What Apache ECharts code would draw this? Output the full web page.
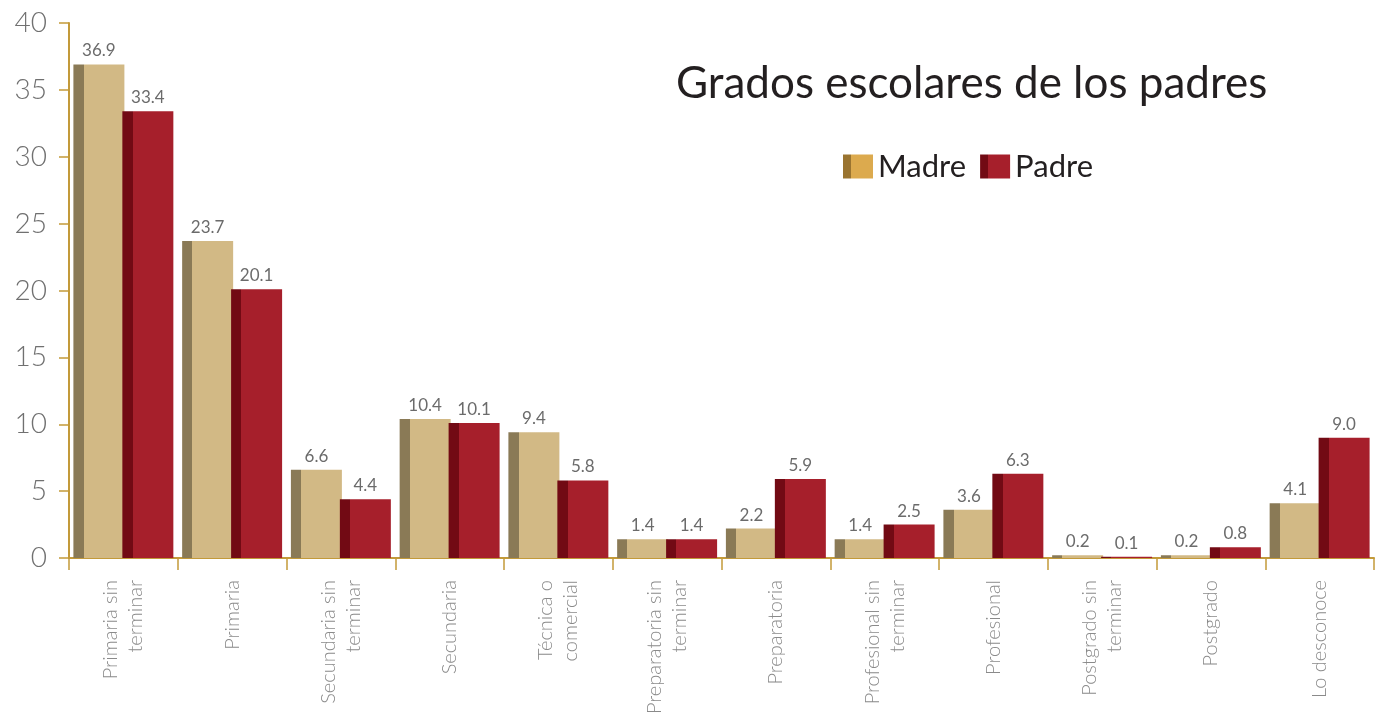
<!DOCTYPE html>
<html>
<head>
<meta charset="utf-8">
<script src="https://cdn.jsdelivr.net/npm/echarts@6/dist/echarts.min.js"></script>
<style>
  html, body { margin: 0; padding: 0; background: #fff; }
  #chart { width: 1382px; height: 728px; }
</style>
</head>
<body>
<div id="chart"></div>
<script>
var categories = ['Primaria sin\nterminar', 'Primaria', 'Secundaria sin\nterminar', 'Secundaria',
    'Técnica o\ncomercial', 'Preparatoria sin\nterminar', 'Preparatoria', 'Profesional sin\nterminar',
    'Profesional', 'Postgrado sin\nterminar', 'Postgrado', 'Lo desconoce'];
var madre = [36.9, 23.7, 6.6, 10.4, 9.4, 1.4, 2.2, 1.4, 3.6, 0.2, 0.2, 4.1];
var padre = [33.4, 20.1, 4.4, 10.1, 5.8, 1.4, 5.9, 2.5, 6.3, 0.1, 0.8, 9.0];

// barra con franja oscura a la izquierda (efecto 3D)
function sideFill(dark, light, cut) {
    return new echarts.graphic.LinearGradient(0, 0, 1, 0, [
        {offset: 0, color: dark},
        {offset: cut, color: dark},
        {offset: cut, color: light},
        {offset: 1, color: light}
    ]);
}

var labelStyle = {
    show: true,
    position: 'top',
    distance: 5,
    color: '#6b6b6b',
    fontFamily: 'Lato',
    fontSize: 17,
    formatter: function (p) { return p.value.toFixed(1); }
};

var option = {
    backgroundColor: '#fff',
    animation: false,
    title: {
        text: 'Grados escolares de los padres',
        left: 671,
        top: 57,
        textStyle: {fontFamily: 'Lato', fontSize: 44, fontWeight: 'normal', color: '#231f20'}
    },
    legend: {
        left: 838,
        top: 146,
        itemWidth: 30,
        itemHeight: 24,
        itemGap: 14,
        textStyle: {fontFamily: 'Lato', fontSize: 31, color: '#231f20'},
        data: [
            {name: 'Madre', icon: 'rect', itemStyle: {color: sideFill('#9a7430', '#dcaa4e', 0.25)}},
            {name: 'Padre', icon: 'rect', itemStyle: {color: sideFill('#720a14', '#a61f2b', 0.25)}}
        ]
    },
    grid: {left: 69, right: 8, top: 23, bottom: 170},
    xAxis: {
        type: 'category',
        data: categories,
        axisLine: {lineStyle: {color: '#c39a3a', width: 2}},
        axisTick: {show: true, length: 12, lineStyle: {color: '#c39a3a', width: 1.5}},
        axisLabel: {
            rotate: 90,
            margin: 22,
            color: '#8a8a8a',
            fontFamily: 'Lato',
            fontWeight: 300,
            fontSize: 20,
            lineHeight: 25
        }
    },
    yAxis: {
        type: 'value',
        min: 0,
        max: 40,
        interval: 5,
        splitLine: {show: false},
        axisLine: {show: true, lineStyle: {color: '#c39a3a', width: 2}},
        axisTick: {show: true, length: 10, lineStyle: {color: '#c39a3a', width: 1.5}},
        axisLabel: {margin: 22, color: '#707070', fontFamily: 'Lato', fontWeight: 300, fontSize: 28}
    },
    series: [
        {
            name: 'Madre',
            type: 'bar',
            data: madre,
            barWidth: 51,
            barGap: '-4%',
            itemStyle: {color: sideFill('#8a7a56', '#d2b985', 0.2)},
            label: labelStyle
        },
        {
            name: 'Padre',
            type: 'bar',
            data: padre,
            barWidth: 51,
            itemStyle: {color: sideFill('#720a14', '#a61f2b', 0.2)},
            label: labelStyle
        }
    ]
};

var chart = echarts.init(document.getElementById('chart'));
chart.setOption(option);
window.onresize = chart.resize;
</script>
</body>
</html>
